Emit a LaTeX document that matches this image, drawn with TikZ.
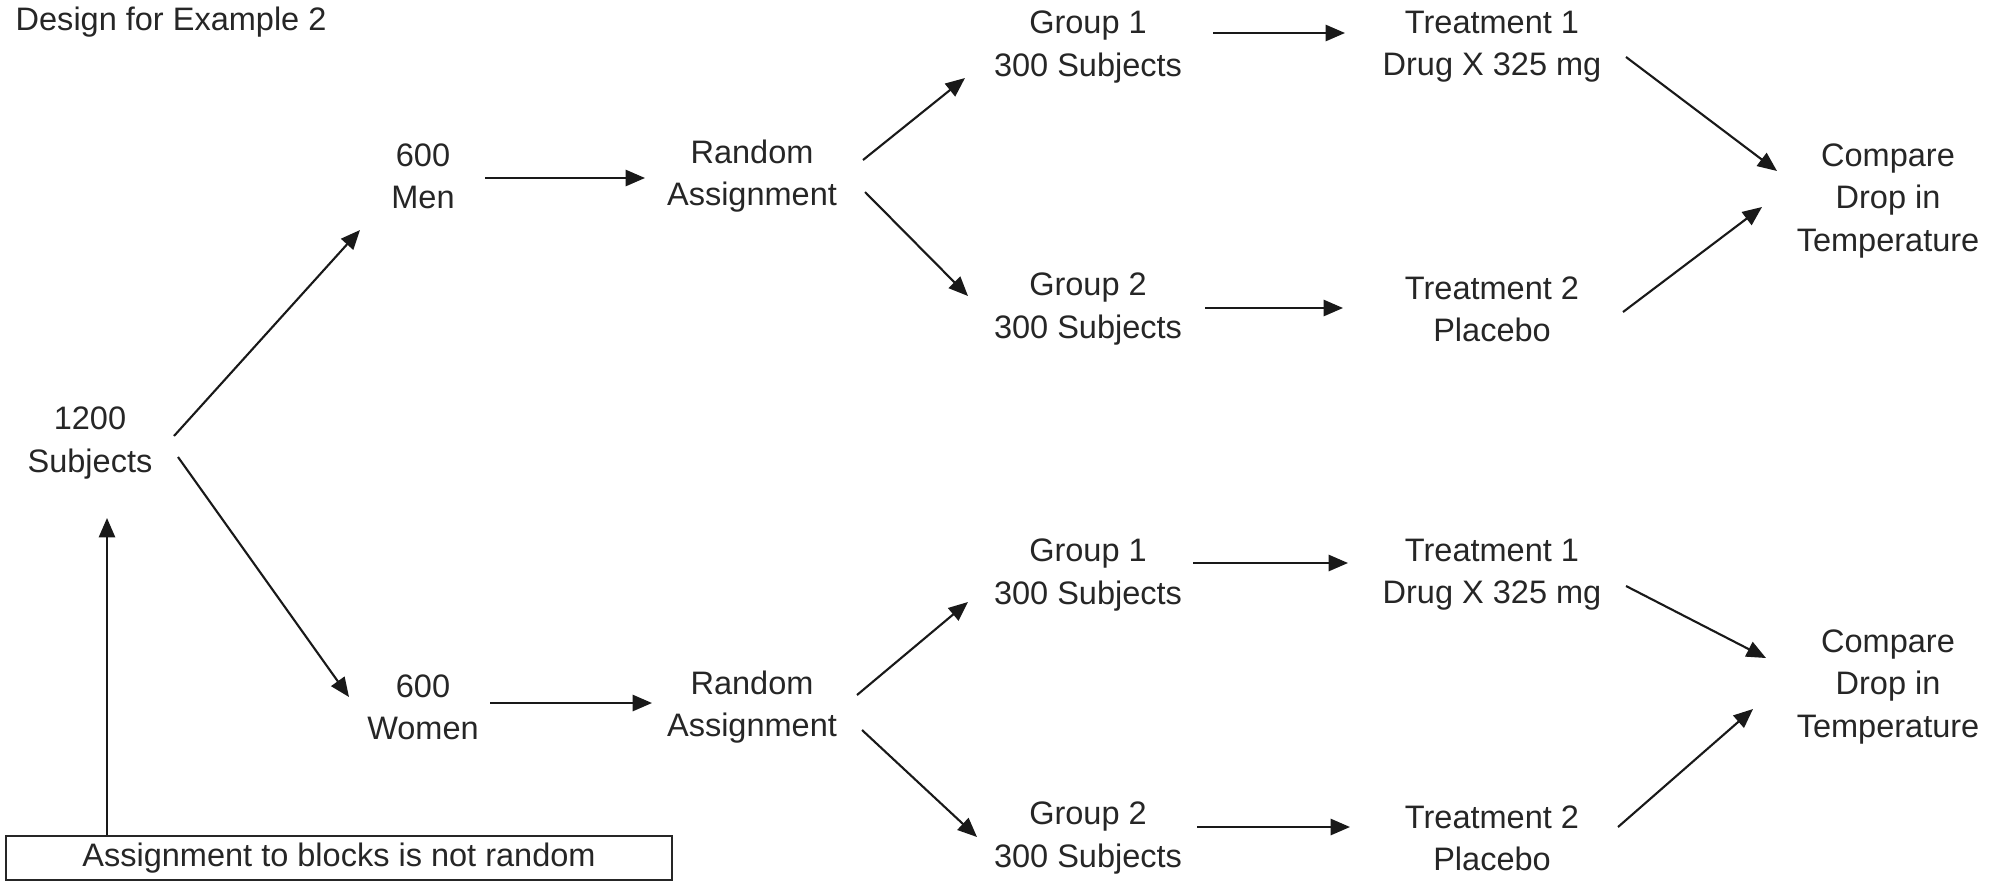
\documentclass[tikz,border=0pt]{standalone}
\usepackage{fontspec}
\setmainfont{Liberation Sans}
\usetikzlibrary{arrows.meta}
\tikzset{
  lbl/.style={align=center, inner sep=0pt, text=black!85, font=\fontsize{9.25pt}{12pt}\selectfont},
  arr/.style={-{Triangle[length=5.5pt,width=4.6pt]}, line width=0.6pt, black!90},
}
\begin{document}
\begin{tikzpicture}
\useasboundingbox (0,0) rectangle (19.95,8.82);
\node[lbl,anchor=west] (title) at (0.15,8.60) {Design for Example 2};
\node[lbl] (subj) at (0.90,4.39) {1200\\Subjects};
\node[lbl] (men) at (4.23,7.06) {600\\Men};
\node[lbl] (women) at (4.23,1.75) {600\\Women};
\node[lbl] (randA) at (7.52,7.06) {Random\\Assignment};
\node[lbl] (randB) at (7.52,1.75) {Random\\Assignment};
\node[lbl] (grpA1) at (10.88,8.35) {Group 1\\300 Subjects};
\node[lbl] (grpA2) at (10.88,5.73) {Group 2\\300 Subjects};
\node[lbl] (grpB1) at (10.88,3.07) {Group 1\\300 Subjects};
\node[lbl] (grpB2) at (10.88,0.44) {Group 2\\300 Subjects};
\node[lbl] (trtA1) at (14.92,8.35) {Treatment 1\\Drug X 325 mg};
\node[lbl] (trtA2) at (14.92,5.73) {Treatment 2\\Placebo};
\node[lbl] (trtB1) at (14.92,3.07) {Treatment 1\\Drug X 325 mg};
\node[lbl] (trtB2) at (14.92,0.44) {Treatment 2\\Placebo};
\node[lbl] (cmpA) at (18.88,6.81) {Compare\\Drop in\\Temperature};
\node[lbl] (cmpB) at (18.88,1.95) {Compare\\Drop in\\Temperature};
\node[lbl,draw=black!85,line width=0.6pt,minimum width=6.66cm,minimum height=0.44cm] (note) at (3.39,0.24) {Assignment to blocks is not random};
\coordinate (uptip) at (1.07,3.64);
% blocks
\draw[arr] (note.north -| uptip) -- (uptip);
\draw[arr] ([shift={(0.84,0.07)}]subj.center) -- ([shift={(-0.63,-0.54)}]men.center);
\draw[arr] ([shift={(0.88,-0.14)}]subj.center) -- ([shift={(-0.74,0.10)}]women.center);
\draw[arr] ([shift={(0.62,-0.02)}]men.center) -- ([shift={(-1.07,-0.02)}]randA.center);
\draw[arr] ([shift={(0.67,0.04)}]women.center) -- ([shift={(-1.00,0.04)}]randB.center);
% random assignment
\draw[arr] ([shift={(1.11,0.16)}]randA.center) -- ([shift={(-1.23,-0.31)}]grpA1.center);
\draw[arr] ([shift={(1.13,-0.16)}]randA.center) -- ([shift={(-1.20,0.13)}]grpA2.center);
\draw[arr] ([shift={(1.05,0.12)}]randB.center) -- ([shift={(-1.20,-0.27)}]grpB1.center);
\draw[arr] ([shift={(1.10,-0.23)}]randB.center) -- ([shift={(-1.11,0.01)}]grpB2.center);
% treatments
\draw[arr] ([shift={(1.25,0.14)}]grpA1.center) -- ([shift={(-1.47,0.14)}]trtA1.center);
\draw[arr] ([shift={(1.17,0.01)}]grpA2.center) -- ([shift={(-1.49,0.01)}]trtA2.center);
\draw[arr] ([shift={(1.05,0.12)}]grpB1.center) -- ([shift={(-1.44,0.12)}]trtB1.center);
\draw[arr] ([shift={(1.09,0.11)}]grpB2.center) -- ([shift={(-1.42,0.11)}]trtB2.center);
% compare
\draw[arr] ([shift={(1.34,-0.10)}]trtA1.center) -- ([shift={(-1.11,0.30)}]cmpA.center);
\draw[arr] ([shift={(1.31,-0.03)}]trtA2.center) -- ([shift={(-1.26,-0.06)}]cmpA.center);
\draw[arr] ([shift={(1.34,-0.11)}]trtB1.center) -- ([shift={(-1.22,0.29)}]cmpB.center);
\draw[arr] ([shift={(1.26,0.11)}]trtB2.center) -- ([shift={(-1.35,-0.22)}]cmpB.center);
\end{tikzpicture}
\end{document}
